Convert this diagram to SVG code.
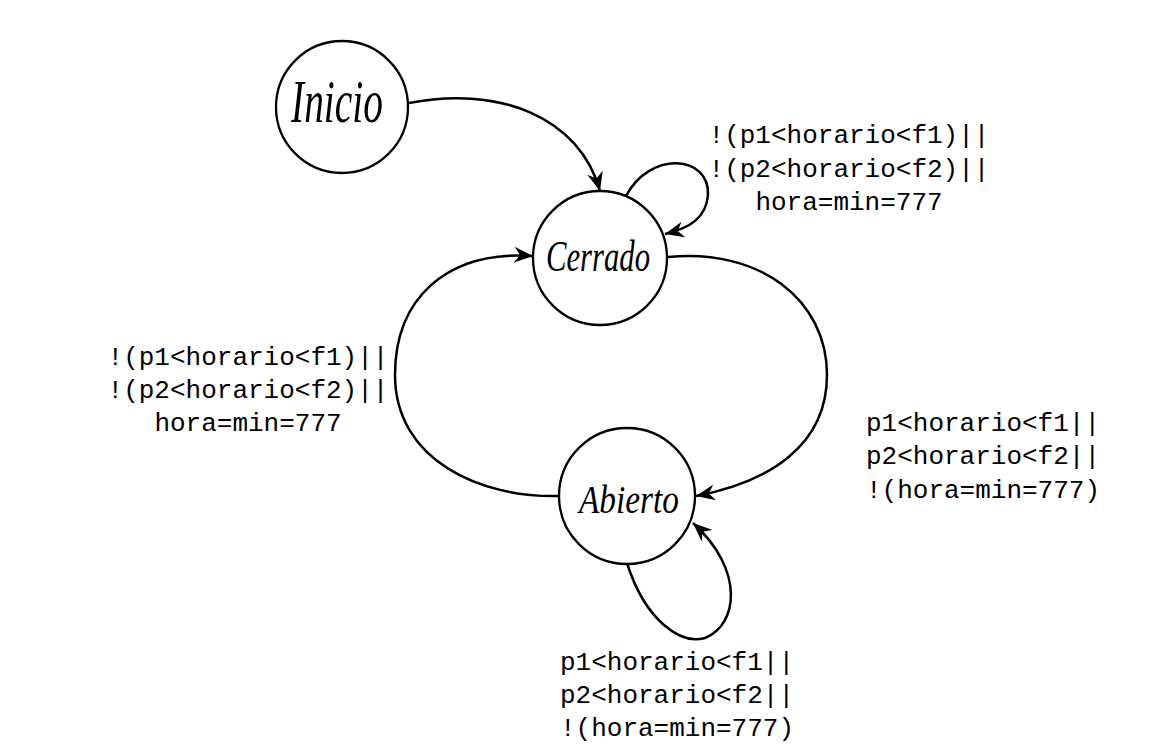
<svg xmlns="http://www.w3.org/2000/svg" width="1176" height="747" viewBox="0 0 1176 747">
<style>
.node{fill:#fff;stroke:#000;stroke-width:2.3}
.nl{font-family:"Liberation Serif",serif;font-style:italic;fill:#000;text-anchor:middle}
.edge{fill:none;stroke:#000;stroke-width:2.5}
.lbl{font-family:"Liberation Mono",monospace;font-size:26px;fill:#000;text-anchor:middle}
</style>
<defs>
<marker id="arr" markerUnits="userSpaceOnUse" markerWidth="20" markerHeight="16" refX="19" refY="8" orient="auto" viewBox="0 0 20 16">
<path d="M0,0 L19,8 L0,16 L6,8 Z" fill="#000"/>
</marker>
</defs>
<rect width="1176" height="747" fill="#fff"/>
<g id="connectors">
<path class="edge" marker-end="url(#arr)" d="M409,103 C500,85 580,118 600,191"/>
<path class="edge" marker-end="url(#arr)" d="M626,196 C650,150 710,155 708,195 C706,218 690,228 665,234"/>
<path class="edge" marker-end="url(#arr)" d="M668,257 C760,248 827,300 827,375 C827,445 770,482 696,496"/>
<path class="edge" marker-end="url(#arr)" d="M559,496 C480,498 395,460 395,375 C395,300 445,250 533,256"/>
<path class="edge" marker-end="url(#arr)" d="M627,563 C645,620 680,645 705,638 C738,625 745,570 693,523"/>
</g>
<g id="node-inicio">
<circle class="node" cx="342" cy="107" r="66"/>
<text class="nl" x="337" y="122" font-size="62" textLength="92" lengthAdjust="spacingAndGlyphs">Inicio</text>
</g>
<g id="node-cerrado">
<circle class="node" cx="600" cy="258" r="67"/>
<text class="nl" x="598" y="271" font-size="44" textLength="104" lengthAdjust="spacingAndGlyphs">Cerrado</text>
</g>
<g id="node-abierto">
<circle class="node" cx="627" cy="496" r="68"/>
<text class="nl" x="629" y="513" font-size="40" textLength="100" lengthAdjust="spacingAndGlyphs">Abierto</text>
</g>
<g id="labels">
<text class="lbl" x="849" y="143">!(p1&lt;horario&lt;f1)||</text>
<text class="lbl" x="849" y="177">!(p2&lt;horario&lt;f2)||</text>
<text class="lbl" x="849" y="210">hora=min=777</text>
<text class="lbl" x="248" y="365">!(p1&lt;horario&lt;f1)||</text>
<text class="lbl" x="248" y="398">!(p2&lt;horario&lt;f2)||</text>
<text class="lbl" x="248" y="431">hora=min=777</text>
<text class="lbl" x="983" y="431">p1&lt;horario&lt;f1||</text>
<text class="lbl" x="983" y="464">p2&lt;horario&lt;f2||</text>
<text class="lbl" x="983" y="498">!(hora=min=777)</text>
<text class="lbl" x="677" y="670">p1&lt;horario&lt;f1||</text>
<text class="lbl" x="677" y="703">p2&lt;horario&lt;f2||</text>
<text class="lbl" x="677" y="736">!(hora=min=777)</text>
</g>
</svg>
